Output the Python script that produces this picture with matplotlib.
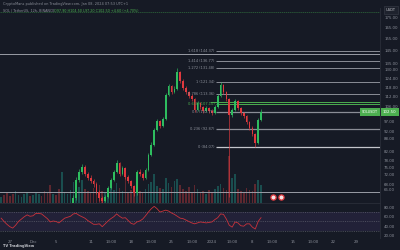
import matplotlib.pyplot as plt
import matplotlib.transforms as mtransforms
import numpy as np

# SOL/USDT 12h candles, day offsets from 2024-01-01
closes = [57.0, 56.2, 55.6, 55.0, 54.5, 55.2, 56.1, 56.8, 57.6, 58.3, 57.9, 58.2, 59.0, 59.3, 59.1,
          58.5, 57.9, 57.2, 57.5, 57.4, 57.0, 57.8, 58.6, 59.0, 59.6,
          63.0, 69.8, 73.0, 75.1, 72.2, 70.6, 69.4, 68.2, 65.2, 63.0, 62.0, 63.4, 66.7, 69.8, 73.0,
          76.8, 72.2, 74.7, 71.0, 69.4, 67.4, 64.8, 73.0, 72.2, 70.6, 73.8,
          80.4, 85.0, 92.5, 97.4, 94.7, 98.5, 112.8, 118.7, 114.7, 116.7, 128.4, 122.1, 117.3, 114.7,
          112.1, 110.3, 103.6, 107.8, 105.4, 103.0,
          104.8, 103.0, 101.9, 105.4, 112.1, 119.3, 114.7, 110.3, 100.7, 103.6, 109.0, 104.8, 101.9,
          100.2, 96.8, 93.6, 90.5, 86.0, 97.9, 102.5]
highs = [57.8, 57.3, 56.5, 55.9, 55.4, 55.8, 56.6, 57.3, 58.1, 58.9, 58.7, 58.8, 59.6, 60.1, 59.8,
         59.4, 58.7, 58.2, 58.1, 58.0, 57.7, 58.3, 59.2, 59.6, 60.3,
         64.0, 70.9, 74.2, 76.5, 75.8, 73.0, 71.8, 70.3, 68.9, 66.0, 63.8, 64.3, 67.5, 70.6, 74.0,
         78.0, 77.3, 75.6, 75.2, 71.9, 70.0, 68.0, 73.9, 74.1, 72.9, 74.6,
         81.5, 86.3, 93.8, 98.6, 98.2, 99.8, 114.2, 120.3, 119.6, 118.4, 131.4, 129.5, 123.4, 118.5,
         115.6, 113.4, 111.0, 108.9, 108.6, 106.3,
         105.9, 105.6, 104.0, 106.5, 113.3, 121.3, 120.1, 115.5, 111.2, 104.8, 110.6, 109.8, 105.6,
         102.7, 101.0, 97.6, 94.5, 91.2, 98.9, 104.5]
lows = [56.4, 55.8, 55.0, 54.4, 53.9, 54.3, 55.0, 55.9, 56.5, 57.4, 57.3, 57.5, 57.8, 58.6, 58.6,
        57.9, 57.1, 56.6, 56.8, 56.7, 56.4, 56.6, 57.6, 58.2, 58.7,
        59.2, 62.5, 69.0, 72.4, 71.5, 69.8, 68.6, 67.2, 64.5, 62.1, 61.2, 61.5, 63.0, 66.2, 69.3,
        72.5, 71.4, 71.8, 70.3, 68.7, 66.6, 63.9, 64.3, 71.4, 69.8, 70.2,
        73.3, 79.8, 84.4, 91.8, 93.5, 94.0, 97.8, 111.9, 113.2, 113.8, 116.0, 120.8, 116.2, 113.5,
        111.0, 109.2, 102.2, 103.0, 104.3, 101.9,
        102.4, 102.0, 100.6, 101.3, 104.9, 111.5, 113.6, 109.0, 63.5, 99.4, 103.0, 103.9, 100.8,
        99.1, 95.8, 92.5, 89.4, 84.07, 85.5, 97.2]
volumes = [6, 8, 10, 7, 9, 12, 8, 6, 9, 11, 7, 8, 10, 9, 7, 12, 10, 18, 9, 8, 14, 32, 11, 9, 13,
           22, 20, 16, 24, 14, 12, 10, 15, 13, 18, 12, 10, 14, 16, 13, 21, 15, 12, 27, 11, 13, 17, 20, 12, 10, 14,
           19, 22, 30, 17, 15, 14, 26, 21, 16, 23, 25, 18, 14, 12, 16, 11, 18, 14, 10, 12,
           9, 13, 11, 14, 17, 19, 15, 13, 48, 26, 30, 14, 12, 10, 15, 13, 12, 20, 24, 18]
rsi = [57, 50, 44, 39, 36, 42, 50, 55, 60, 64, 61, 62, 67, 67, 66, 61, 56, 49, 51, 50, 47, 52, 57, 59, 61,
       66, 67, 63, 60, 57, 52, 48, 44, 44, 45, 39, 45, 51, 56, 60, 66, 61, 57, 58, 52, 46, 44, 49, 51, 55, 62,
       70, 77, 82, 77, 70, 72, 74, 72, 68, 65, 61, 57, 56, 53, 50, 47, 45, 47, 49, 48,
       47, 48, 49, 54, 58, 66, 65, 55, 42, 38, 49, 47, 41, 40, 45, 45, 38, 34, 50, 58]

fib_ratios = ["0", "0.236", "0.5", "0.618", "0.786", "1", "1.272", "1.414", "1.618"]
fib_prices = [84.07, 92.87, 102.71, 107.10, 113.36, 121.34, 131.48, 136.77, 144.37]
hlines = [142.3, 65.2]
green_line = 108.5
event_days = [10.6, 12.0]

date_ticks = [-35, -31, -27, -21, -17.5, -14, -10.5, -7, -3.5, 0, 3.5, 7, 10.5, 14, 17.5, 21, 25]
date_labels = ["27", "Dec", "5", "11", "13:00", "18", "13:00", "25", "13:00", "2024", "13:00",
               "8", "13:00", "15", "13:00", "22", "29"]
price_ticks = [175, 165, 155, 145, 135, 130, 124, 118, 112, 106, 97, 92, 88, 82, 78, 75, 72, 68, 66]
rsi_ticks = [20, 40, 60, 80]

bg = "#161a25"
up, dn = "#2ebd5f", "#e0393e"
txt = "#8c909a"

closes = np.array(closes)
opens = np.r_[closes[0], closes[:-1]]
days = -36.5 + 0.5 * np.arange(len(closes))
is_up = closes >= opens
colors = np.where(is_up, up, dn)

fig = plt.figure(figsize=(4, 2.5), dpi=100, facecolor=bg)
ax = fig.add_axes([0, 0.188, 0.95, 0.78], facecolor=bg)
axv = ax.twinx()
axr = fig.add_axes([0, 0.048, 0.95, 0.136], facecolor=bg, sharex=ax)

# volume overlay
vcol = np.where(is_up, "#1f8f84", "#b8383d")
axv.bar(days, volumes, width=0.28, color=vcol, alpha=0.45, zorder=1)
axv.set_ylim(0, 200)
axv.axis("off")
ax.set_zorder(axv.get_zorder() + 1)
ax.patch.set_visible(False)
axv.patch.set_facecolor(bg)

# candles
ax.vlines(days, lows, highs, color=colors, lw=0.45, zorder=3)
ax.bar(days, np.abs(closes - opens), bottom=np.minimum(opens, closes), width=0.3,
       color=colors, zorder=4)

ax.set_yscale("log")
ax.set_ylim(61.3, 184.4)
ax.set_xlim(-36.7, 29.1)

# horizontal drawings
ax.axhline(hlines[0], color="#9a9da6", lw=0.7, zorder=2)
ax.axhline(hlines[1], color="#9a9da6", lw=0.7, zorder=2)
ax.axhline(180, color="#2f6b3c", lw=0.5, ls=(0, (2, 1)), zorder=2)

# fib extension
fib_start = 0.7
for r, p in zip(fib_ratios, fib_prices):
    c = "#4caf50" if r == "0.618" else "#8a8d96"
    lw = 0.9 if r in ("0", "0.5", "0.236") else 0.7
    ax.hlines(p, fib_start, 29.1, color=c if r != "0" else "#c4c6cc", lw=lw, zorder=2)
    ax.text(fib_start - 0.3, p, f"{r} ({p:.2f})", fontsize=2.6, color=c if r == "0.618" else txt,
            ha="right", va="center", zorder=5)
ax.hlines(green_line, fib_start - 1, 29.1, color="#4caf50", lw=0.7, zorder=2)

ax.scatter(event_days, [63.4, 63.4], s=14, facecolor="#f6e3e4", edgecolor="#e0393e", lw=0.9, zorder=6)

ax.yaxis.tick_right()
ax.set_yticks(price_ticks)
ax.set_yticklabels([f"{v:.2f}" for v in price_ticks])
ax.yaxis.set_minor_locator(plt.NullLocator())
ax.tick_params(axis="y", labelsize=2.8, colors=txt, length=0, pad=3)
ax.tick_params(axis="x", bottom=False, labelbottom=False)
for s in ax.spines.values():
    s.set_visible(False)
ax.spines["bottom"].set_visible(True)
ax.spines["bottom"].set_color("#2a2e39")
ax.spines["bottom"].set_linewidth(0.6)

# last price labels
trans = mtransforms.blended_transform_factory(ax.transAxes, ax.transData)
ax.text(1.008, closes[-1], f"{closes[-1]:.2f}", transform=trans, fontsize=2.8, color="white",
        ha="left", va="center", bbox=dict(boxstyle="square,pad=0.6", fc="#4caf50", ec="none"), zorder=7)
ax.text(0.995, closes[-1], "SOLUSDT", transform=trans, fontsize=2.4, color="white",
        ha="right", va="center", bbox=dict(boxstyle="square,pad=0.5", fc="#4caf50", ec="none"), zorder=7)

# RSI pane
axr.fill_between([-36.7, 29.1], 30, 70, color="#7e57c2", alpha=0.12, lw=0)
for lv in (70, 50, 30):
    axr.axhline(lv, color="#6a6d78", lw=0.4, ls=(0, (2, 2)))
axr.plot(days, rsi, color="#c8323b", lw=0.6)
axr.set_ylim(15, 87)
axr.yaxis.tick_right()
axr.set_yticks(rsi_ticks)
axr.set_yticklabels([f"{v:.2f}" for v in rsi_ticks])
axr.set_xticks(date_ticks)
axr.set_xticklabels(date_labels)
axr.tick_params(axis="y", labelsize=2.8, colors=txt, length=0, pad=3)
axr.tick_params(axis="x", labelsize=2.8, colors=txt, length=0, pad=1.2)
for s in axr.spines.values():
    s.set_visible(False)

# right axis separator
fig.add_artist(plt.Line2D([0.951, 0.951], [0.048, 0.968], color="#2a2e39", lw=0.6))

# header / footer
fig.text(0.008, 1 - 4 / 250, "CryptoMans published on TradingView.com, Jan 08, 2024 07:53 UTC+1",
         fontsize=2.5, color=txt, va="center")
fig.text(0.008, 1 - 11 / 250, "SOL / TetherUS, 12h, BINANCE", fontsize=2.4, color=txt, va="center")
fig.text(0.135, 1 - 11 / 250, "O97.90 H104.50 L97.20 C102.50 +4.60 (+4.70%)", fontsize=2.4,
         color="#4caf50", va="center")
fig.text(0.965, 1 - 10 / 250, "USDT", fontsize=2.6, color="#c4c6cc", va="center",
         bbox=dict(boxstyle="square,pad=0.5", fc="#1e222d", ec="#3a3e49", lw=0.4))
fig.text(0.008, 0.016, "TV TradingView", fontsize=2.6, color="#c4c6cc", weight="bold", va="center")

fig.savefig("out.png", dpi=100, facecolor=bg)
